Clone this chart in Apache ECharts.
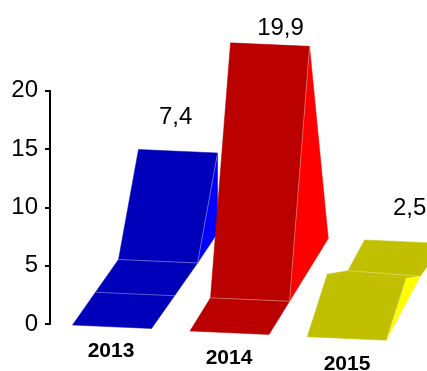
<!DOCTYPE html>
<html><head><meta charset="utf-8">
<script src="https://cdn.jsdelivr.net/npm/echarts@6/dist/echarts.min.js"></script>
<style>html,body{margin:0;padding:0;background:#fff}#c{width:427px;height:371px}</style>
</head><body><div id="c"></div>
<script>
// ---- data ----
const categories = ['2013', '2014', '2015'];
const values = [7.4, 19.9, 2.5];
const valueLabels = ['7,4', '19,9', '2,5'];
const yMin = 0, yMax = 20, yStep = 5;

// ---- pseudo-3D styling per bar (pixel offsets, not data) ----
const darkColors = ['#0000BB', '#BB0000', '#C0C000'];
const lightColors = ['#0000FF', '#FF0000', '#FFFF00'];
const baseShift = [[-38.5, 1], [-39, 7], [-39.7, 12.7]];
const floorVec = [[46, -65.5], [20.5, -33.2], [0, 0]];
const extraH = [23.7, 22.8, 33.3];
const sideVec = [[20, -30], [38.7, -62.7], [34.2, -64.5]];
const topVec = [null, null, [37.3, -34.3]];
const labelOff = [[-2.4, -34], [10.5, -16.7], [5.5, -33.5]];
const FONT = '"Liberation Sans", Arial, sans-serif';

function add(p, v) { return [p[0] + v[0], p[1] + v[1]]; }
function poly(pts, fill) {
  return { type: 'polygon', shape: { points: pts }, style: { fill: fill, stroke: fill, lineWidth: 0.5 } };
}
function seam(a, b) {
  return { type: 'line', shape: { x1: a[0], y1: a[1], x2: b[0], y2: b[1] },
    style: { stroke: 'rgba(255,255,255,0.35)', lineWidth: 1 } };
}

function renderItem(params, api) {
  const i = params.dataIndex;
  const v = api.value(1);
  const p0 = api.coord([api.value(0), 0]);
  const band = api.size([1, 0])[0];
  const W = band * 0.67, tilt = 3.5, lean = 20;
  const H = api.size([0, v])[1] + extraH[i];
  const FL = add(p0, baseShift[i]);
  const FR = [FL[0] + W, FL[1] + tilt];
  const BL = add(FL, floorVec[i]);
  const BR = add(FR, floorVec[i]);
  const TL = [BL[0] + lean, BL[1] - H];
  const TR = [BR[0] + lean, BR[1] - H];
  const S = add(BR, sideVec[i]);
  const dark = darkColors[i], light = lightColors[i];
  const ch = [];
  ch.push(poly([TR, S, BR], light));
  const hasFloor = floorVec[i][0] !== 0 || floorVec[i][1] !== 0;
  if (hasFloor) ch.push(poly([FL, FR, BR, BL], dark));
  ch.push(poly([BL, BR, TR, TL], dark));
  let topC = [(TL[0] + TR[0]) / 2, (TL[1] + TR[1]) / 2];
  if (topVec[i]) {
    const T = topVec[i];
    const M = add(TL, [20.7, -3.6]);
    const B1 = add(TL, T), B2 = add(TR, T);
    ch.push(poly([TL, M, B1, B2, S, TR], dark));
    ch.push(seam(M, [S[0] - 2, S[1] + 0.5]));
    topC = [(B1[0] + B2[0]) / 2, (B1[1] + B2[1]) / 2];
  }
  if (hasFloor) {
    ch.push(seam(BL, BR));
    if (i === 0) {
      ch.push(seam(add(FL, [floorVec[i][0] * 0.5, floorVec[i][1] * 0.5]),
                   add(FR, [floorVec[i][0] * 0.5, floorVec[i][1] * 0.5])));
    }
  }
  ch.push(seam(BR, TR));
  const lp = add(topC, labelOff[i]);
  ch.push({ type: 'text', x: lp[0], y: lp[1],
    style: { text: valueLabels[i], fill: '#000', font: '24px ' + FONT, align: 'center', verticalAlign: 'middle' } });
  return { type: 'group', children: ch };
}

const chart = echarts.init(document.getElementById('c'), null, { renderer: 'canvas' });
chart.setOption({
  animation: false,
  backgroundColor: '#fff',
  textStyle: { fontFamily: FONT },
  grid: { left: 52, right: 21, top: 90.7, bottom: 47, containLabel: false, outerBoundsMode: 'none' },
  xAxis: {
    type: 'category', data: categories,
    axisLine: { show: false }, axisTick: { show: false }, splitLine: { show: false },
    axisLabel: {
      margin: 17, interval: 0,
      formatter: function (v, idx) { return '{s' + idx + '|' + v + '}'; },
      rich: {
        s0: { fontSize: 21, fontWeight: 'bold', color: '#000', fontFamily: FONT, lineHeight: 21 },
        s1: { fontSize: 21, fontWeight: 'bold', color: '#000', fontFamily: FONT, lineHeight: 34 },
        s2: { fontSize: 21, fontWeight: 'bold', color: '#000', fontFamily: FONT, lineHeight: 47 }
      }
    }
  },
  yAxis: {
    type: 'value', min: yMin, max: yMax, interval: yStep, offset: 2,
    axisLine: { show: true, lineStyle: { color: '#000', width: 2 } },
    axisTick: { show: true, length: 5, lineStyle: { color: '#000', width: 2 } },
    splitLine: { show: false },
    axisLabel: { color: '#000', fontSize: 24, fontFamily: FONT, margin: 12 }
  },
  series: [{
    type: 'custom', renderItem: renderItem, clip: false,
    encode: { x: 0, y: 1 },
    data: categories.map(function (c, i) { return [i, values[i]]; })
  }]
});
</script></body></html>
